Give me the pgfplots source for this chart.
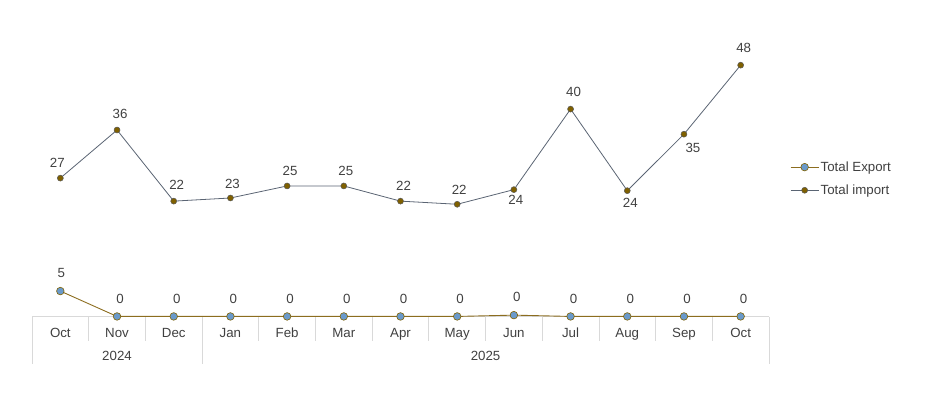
\documentclass[border=0pt]{standalone}
\usepackage{pgfplots}
\pgfplotsset{compat=1.18}
\usepackage{fontspec}
\setmainfont{Liberation Sans}
\definecolor{txt}{HTML}{404040}
\definecolor{impline}{HTML}{5A6473}
\definecolor{impmark}{HTML}{7F6000}
\definecolor{impedge}{HTML}{595959}
\definecolor{expline}{HTML}{8C6D1F}
\definecolor{expmark}{HTML}{6A9ACB}
\definecolor{gridc}{HTML}{D9D9D9}
\pgfplotsset{
  lbl/.style={
    nodes near coords,
    point meta=explicit symbolic,
    visualization depends on={\thisrow{dx} \as \lbldx},
    visualization depends on={\thisrow{dy} \as \lbldy},
    every node near coord/.append style={anchor=center, xshift=\lbldx*1bp, yshift=\lbldy*1bp, text=txt, inner sep=0pt},
  },
  expst/.style={expline, line width=0.9bp, mark=*, mark size=3.8bp,
    mark options={fill=expmark, draw=impmark, line width=0.6bp}},
  impst/.style={impline, line width=0.8bp, mark=*, mark size=3bp,
    mark options={fill=impmark, draw=impedge, line width=0.5bp}},
}
\begin{document}
\begin{tikzpicture}[font=\fontsize{13.3bp}{15bp}\selectfont]
\path[use as bounding box] (0bp,0bp) rectangle (934bp,399bp);
\begin{axis}[
  at={(32bp,82.3bp)}, anchor=south west,
  scale only axis, width=737bp, height=303.3bp,
  xmin=-0.5, xmax=12.5, ymin=0, ymax=58,
  clip=false,
  axis line style={draw=none},
  ytick=\empty,
  xtick={0,...,12},
  xticklabels={Oct,Nov,Dec,Jan,Feb,Mar,Apr,May,Jun,Jul,Aug,Sep,Oct},
  major tick length=0pt,
  xticklabel style={anchor=base, yshift=-20.5bp, text=txt, inner sep=0pt},
  legend style={at={(axis description cs:1,0.455)}, anchor=west, xshift=21bp,
    draw=none, fill=none, text=txt, inner sep=0pt, row sep=9bp,
    nodes={inner sep=1.5bp}},
  legend cell align=left,
  legend image code/.code={\draw[mark repeat=2,mark phase=2,#1] plot coordinates {(0bp,0bp) (14bp,0bp) (28bp,0bp)};},
]
\draw[gridc, line width=0.8bp] (axis cs:-0.5,0) -- (axis cs:12.5,0);
\draw[gridc, line width=0.8bp] (axis cs:-0.5,0) -- ([yshift=-47bp]axis cs:-0.5,0);
\draw[gridc, line width=0.8bp] (axis cs:2.5,0) -- ([yshift=-47bp]axis cs:2.5,0);
\draw[gridc, line width=0.8bp] (axis cs:12.5,0) -- ([yshift=-47bp]axis cs:12.5,0);
\draw[gridc, line width=0.8bp] (axis cs:0.5,0) -- ([yshift=-24bp]axis cs:0.5,0);
\draw[gridc, line width=0.8bp] (axis cs:1.5,0) -- ([yshift=-24bp]axis cs:1.5,0);
\draw[gridc, line width=0.8bp] (axis cs:3.5,0) -- ([yshift=-24bp]axis cs:3.5,0);
\draw[gridc, line width=0.8bp] (axis cs:4.5,0) -- ([yshift=-24bp]axis cs:4.5,0);
\draw[gridc, line width=0.8bp] (axis cs:5.5,0) -- ([yshift=-24bp]axis cs:5.5,0);
\draw[gridc, line width=0.8bp] (axis cs:6.5,0) -- ([yshift=-24bp]axis cs:6.5,0);
\draw[gridc, line width=0.8bp] (axis cs:7.5,0) -- ([yshift=-24bp]axis cs:7.5,0);
\draw[gridc, line width=0.8bp] (axis cs:8.5,0) -- ([yshift=-24bp]axis cs:8.5,0);
\draw[gridc, line width=0.8bp] (axis cs:9.5,0) -- ([yshift=-24bp]axis cs:9.5,0);
\draw[gridc, line width=0.8bp] (axis cs:10.5,0) -- ([yshift=-24bp]axis cs:10.5,0);
\draw[gridc, line width=0.8bp] (axis cs:11.5,0) -- ([yshift=-24bp]axis cs:11.5,0);
\node[text=txt, anchor=base, inner sep=0pt] at ([yshift=-43.5bp]axis cs:1,0) {2024};
\node[text=txt, anchor=base, inner sep=0pt] at ([yshift=-43.5bp]axis cs:7.5,0) {2025};
\addplot[expst, lbl, forget plot] table[x=x, y=y, meta=lab] {
x y lab dx dy
0 4.9 5 1 18
1 0.05 0 3 18
2 0.05 0 3 18
3 0.05 0 3 18
4 0.05 0 3 18
5 0.05 0 3 18
6 0.05 0 3 18
7 0.05 0 3 18
8 0.3 0 3 18
9 0.05 0 3 18
10 0.05 0 3 18
11 0.05 0 3 18
12 0.05 0 3 18
};
\addplot[impst, lbl, forget plot] table[x=x, y=y, meta=lab] {
x y lab dx dy
0 26.5 27 -3 15
1 35.7 36 3 16
2 22.1 22 3 16
3 22.7 23 2 14
4 25.0 25 3 15
5 25.0 25 2 15
6 22.1 22 3 15
7 21.5 22 2 14
8 24.3 24 2 -10
9 39.7 40 3 17
10 24.1 24 3 -12.5
11 34.9 35 9 -14
12 48.1 48 3 17
};
\addlegendimage{expst}
\addlegendentry{Total Export}
\addlegendimage{impst}
\addlegendentry{Total import}
\end{axis}
\end{tikzpicture}
\end{document}
